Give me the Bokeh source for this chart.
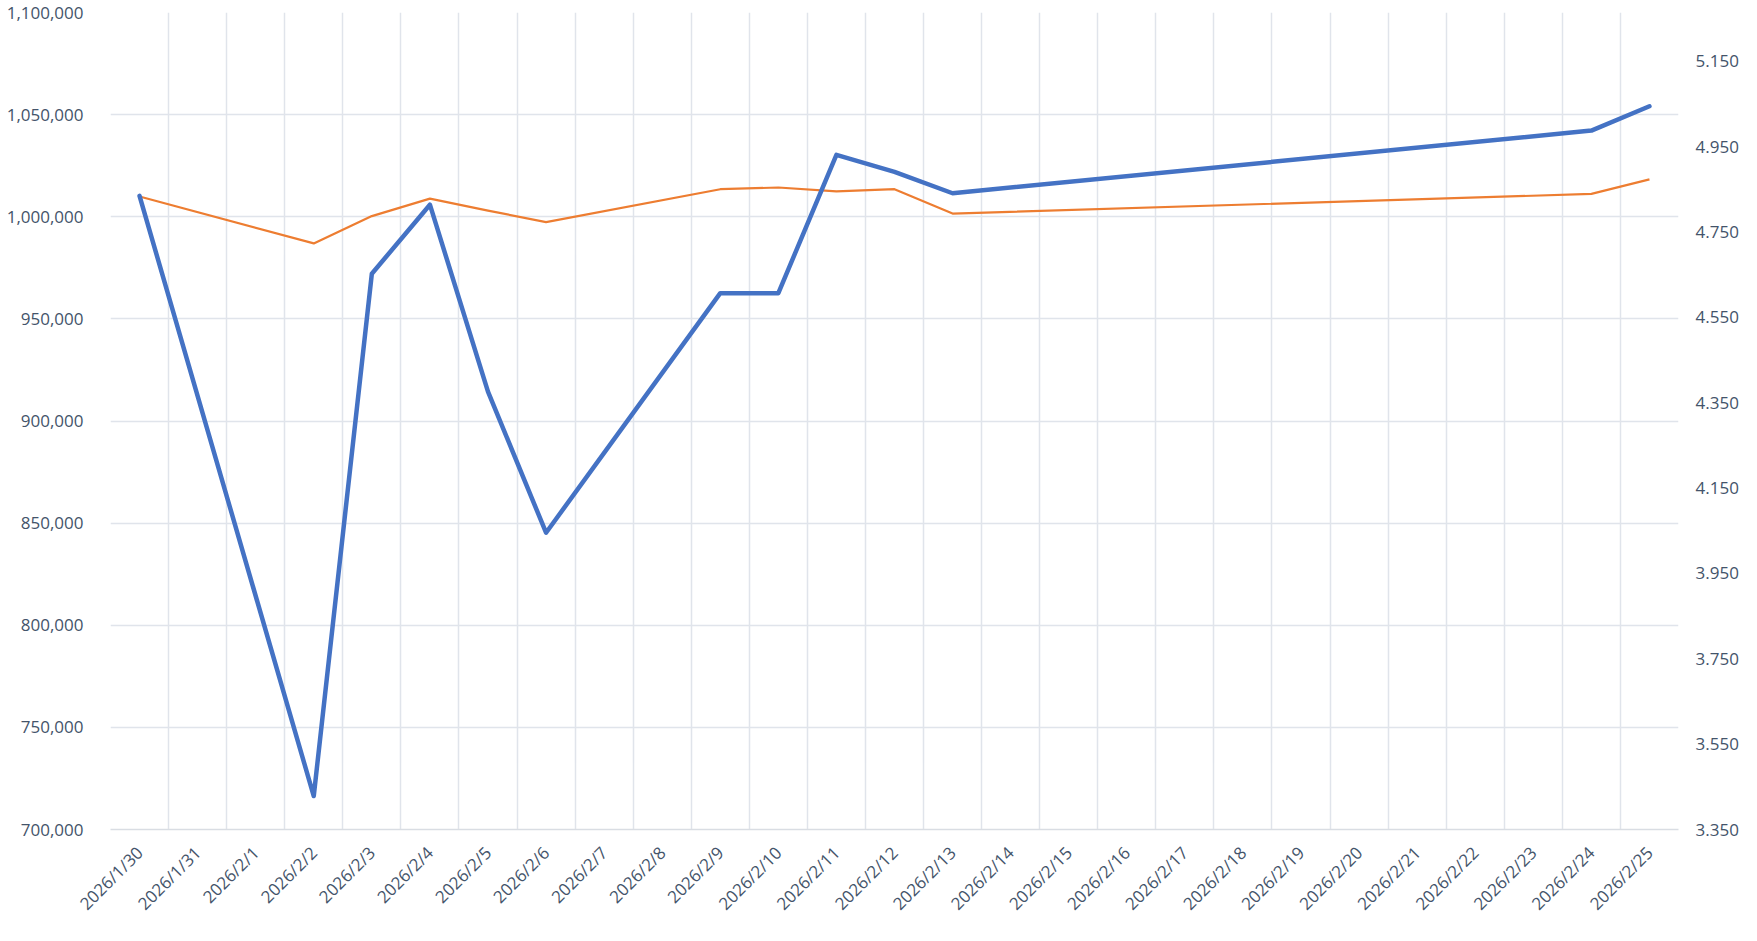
import math
from bokeh.plotting import figure
from bokeh.models import (Range1d, LinearAxis, FixedTicker, NumeralTickFormatter,
                          PrintfTickFormatter, ColumnDataSource)
from bokeh.embed import file_html
from bokeh.resources import INLINE

# ---- data -------------------------------------------------------------
date_labels = ["2026/1/30", "2026/1/31", "2026/2/1", "2026/2/2", "2026/2/3",
               "2026/2/4", "2026/2/5", "2026/2/6", "2026/2/7", "2026/2/8",
               "2026/2/9", "2026/2/10", "2026/2/11", "2026/2/12", "2026/2/13",
               "2026/2/14", "2026/2/15", "2026/2/16", "2026/2/17", "2026/2/18",
               "2026/2/19", "2026/2/20", "2026/2/21", "2026/2/22", "2026/2/23",
               "2026/2/24", "2026/2/25"]

trade_dates = ["2026/1/30", "2026/2/2", "2026/2/3", "2026/2/4", "2026/2/5",
               "2026/2/6", "2026/2/9", "2026/2/10", "2026/2/11", "2026/2/12",
               "2026/2/13", "2026/2/24", "2026/2/25"]

series_left = [1010200, 716400, 972100, 1005900, 914400, 845300, 962600,
               962600, 1030300, 1022000, 1011500, 1042200, 1054100]

series_right = [4.833, 4.723, 4.787, 4.828, 4.800, 4.773, 4.850, 4.854,
                4.845, 4.850, 4.793, 4.839, 4.873]

left_ticks = [700000, 750000, 800000, 850000, 900000, 950000, 1000000,
              1050000, 1100000]
right_ticks = [3.35, 3.55, 3.75, 3.95, 4.15, 4.35, 4.55, 4.75, 4.95, 5.15]

# ---- styling -----------------------------------------------------------
FONT = "Open Sans"
TEXT = "#44546A"
GRID = "#E0E4EB"
BLUE = "#4472C4"
ORANGE = "#ED7D31"
FS = "17px"

xs = [date_labels.index(d) for d in trade_dates]
src = ColumnDataSource(dict(x=xs, left=series_left, right=series_right))

p = figure(width=1741, height=925, output_backend="svg", toolbar_location=None,
           title=None,
           x_range=Range1d(-0.5, len(date_labels) - 0.5),
           y_range=Range1d(left_ticks[0], left_ticks[-1]),
           min_border_left=110, min_border_right=55,
           min_border_top=12, min_border_bottom=96)
p.outline_line_color = None
p.background_fill_color = "white"
p.border_fill_color = "white"

p.extra_y_ranges = {"right": Range1d(3.35, 5.264)}

# x axis
xa = p.xaxis[0]
xa.ticker = FixedTicker(ticks=list(range(len(date_labels))))
xa.major_label_overrides = {i: d for i, d in enumerate(date_labels)}
xa.major_label_orientation = math.pi / 4
xa.major_tick_line_color = None
xa.minor_tick_line_color = None
xa.axis_line_color = "#D9DDE3"
xa.axis_line_width = 1.5
xa.major_label_text_font = FONT
xa.major_label_text_font_size = FS
xa.major_label_text_color = TEXT
xa.major_label_standoff = 14

# left axis
ya = p.yaxis[0]
ya.ticker = FixedTicker(ticks=left_ticks)
ya.formatter = NumeralTickFormatter(format="0,0")
ya.axis_line_color = None
ya.major_tick_line_color = None
ya.minor_tick_line_color = None
ya.major_label_text_font = FONT
ya.major_label_text_font_size = FS
ya.major_label_text_color = TEXT
ya.major_label_standoff = 21

# right axis
ra = LinearAxis(y_range_name="right", ticker=FixedTicker(ticks=right_ticks),
                formatter=PrintfTickFormatter(format="%.3f"))
ra.axis_line_color = None
ra.major_tick_line_color = None
ra.minor_tick_line_color = None
ra.major_label_text_font = FONT
ra.major_label_text_font_size = FS
ra.major_label_text_color = TEXT
ra.major_label_standoff = 11
p.add_layout(ra, "right")

# grids
p.xgrid.ticker = FixedTicker(ticks=[i - 0.5 for i in range(len(date_labels) + 1)])
p.xgrid.grid_line_color = GRID
p.xgrid.grid_line_width = 1.5
p.ygrid.grid_line_color = GRID
p.ygrid.grid_line_width = 1.5

# lines
p.line("x", "right", source=src, y_range_name="right", line_color=ORANGE,
       line_width=2.2, line_join="round")
p.line("x", "left", source=src, line_color=BLUE, line_width=4.5,
       line_join="round", line_cap="round")

open("out.html", "w").write(file_html(p, INLINE))
